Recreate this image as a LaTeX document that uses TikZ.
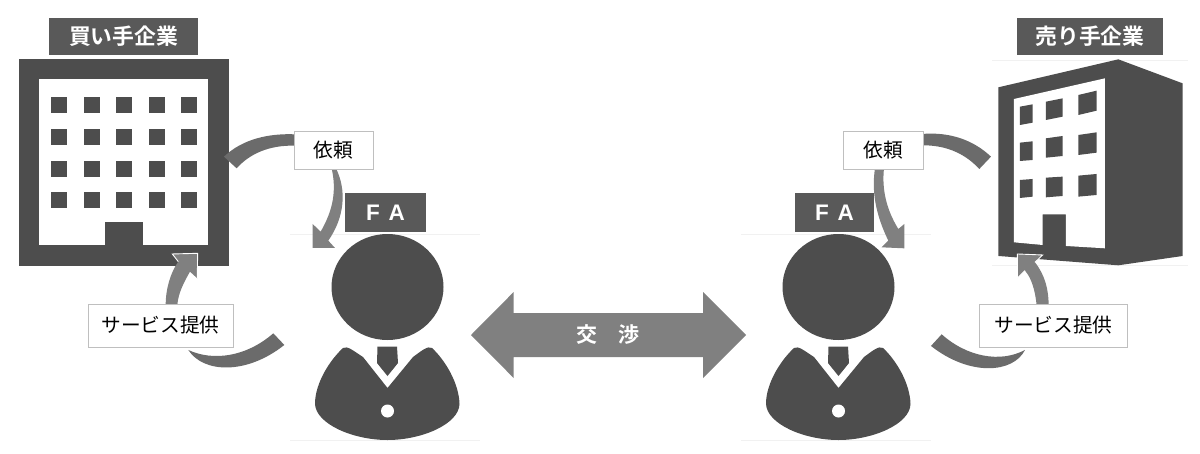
\documentclass[tikz,border=0pt]{standalone}
\usepackage{fontspec}
\setmainfont{Noto Sans CJK JP}[BoldFont={Noto Sans CJK JP Bold}]
\newfontfamily\latinbold{Liberation Sans}[BoldFont={Liberation Sans Bold}]
\definecolor{dark}{HTML}{4D4D4D}
\definecolor{tagc}{HTML}{595959}
\definecolor{bandA}{HTML}{6B6B6B}
\definecolor{bandB}{HTML}{808080}
\definecolor{edgec}{HTML}{BFBFBF}
\definecolor{faint}{HTML}{F1F1F1}
\tikzset{
  tagbox/.style={fill=tagc,draw=none,text=white,inner sep=0pt,font=\fontsize{21.8}{23}\selectfont\bfseries},
  labelbox/.style={fill=white,draw=edgec,line width=0.8pt,inner sep=0pt,text=black,font=\fontsize{19.7}{21}\selectfont},
  darkshape/.style={fill=dark,draw=none},
  bandone/.style={fill=bandA,draw=none},
  bandtwo/.style={fill=bandB,draw=none},
  headoutline/.style={draw=white,line width=0.9pt},
  zoomleft/.style={x=0.3333pt,y=-0.3333pt},
  zoomright/.style={x=0.3333pt,y=-0.3333pt,xshift=760pt}
}
\newcommand{\personfigure}[1]{%
  \begin{scope}[xshift=#1]
    \draw[faint,line width=0.7pt] (290,234) -- (480,234);
    \draw[faint,line width=1pt] (290,440.5) -- (480,440.5);
    \fill[dark] (387.5,287) ellipse [x radius=56,y radius=53];
    \fill[dark] (343,348)
      .. controls (330,360) and (315,383) .. (315,404)
      .. controls (316,424) and (353,440) .. (387.5,440)
      .. controls (422,440) and (459,424) .. (459.5,404)
      .. controls (459,383) and (445,360) .. (432,348)
      .. controls (428,345) and (420,352) .. (413,357)
      -- (387.5,388) -- (363,357)
      .. controls (355,352) and (347,345) .. (343,348) -- cycle;
    \fill[dark] (377.5,346.5) -- (397,346.5) -- (398,363) -- (387.5,376) -- (377,363) -- cycle;
    \fill[white] (387.5,411) circle [radius=6.5];
  \end{scope}}
\begin{document}
\begin{tikzpicture}[x=1pt,y=-1pt]
\useasboundingbox (0,0) rectangle (1200,453);
\fill[white] (0,0) rectangle (1200,453);

% left building
\fill[dark] (19,59) rectangle (229,265.5);
\fill[white] (39,79) rectangle (208,245);
\fill[dark] (105,222) rectangle (143,245);
\foreach \wx in {51,83.5,116,148.5,180.5}
  \foreach \wy in {97,129,161,192}
    \fill[dark] (\wx,\wy) rectangle ++(16,16);

% right building
\begin{scope}[zoomright]
  \draw[faint,line width=0.7pt] (697,180) -- (1285,180);
  \draw[faint,line width=0.7pt] (697,797) -- (1285,797);
  \fill[dark] (715,262) -- (1075,178) -- (1268,250) -- (1268,768) -- (1075,796) -- (715,768) -- cycle;
  \fill[white] (762,297) -- (1035,235) -- (1035,745) -- (918,738) -- (918,643) -- (848,643) -- (848,735) -- (762,727) -- cycle;
  \fill[dark] (780,320) -- (818,313) -- (818,368) -- (780,375) -- cycle;
  \fill[dark] (780,428) -- (818,424) -- (818,480) -- (780,483) -- cycle;
  \fill[dark] (780,540) -- (818,537) -- (818,590) -- (780,594) -- cycle;
  \fill[dark] (858,305) -- (908,295) -- (908,350) -- (858,360) -- cycle;
  \fill[dark] (858,415) -- (908,408) -- (908,468) -- (858,473) -- cycle;
  \fill[dark] (858,533) -- (908,530) -- (908,588) -- (858,592) -- cycle;
  \fill[dark] (955,285) -- (1010,272) -- (1010,332) -- (955,345) -- cycle;
  \fill[dark] (955,405) -- (1010,397) -- (1010,458) -- (955,465) -- cycle;
  \fill[dark] (955,527) -- (1010,522) -- (1010,585) -- (955,590) -- cycle;
\end{scope}

% persons
\personfigure{0pt}
\personfigure{451pt}

% left curved bands
\begin{scope}[zoomleft]
  \fill[bandone] (672,470) .. controls (730,415) and (810,400) .. (885,403)
    -- (885,437) .. controls (810,435) and (750,460) .. (710,505) -- cycle;
  \fill[bandtwo] (1008,505) .. controls (1040,570) and (1035,650) .. (985,722)
    -- (1005,744) -- (938,744) -- (938,672) -- (962,695)
    .. controls (1000,630) and (1010,570) .. (995,505) -- cycle;
  \fill[bandtwo] (497,915) .. controls (497,870) and (510,820) .. (535,785)
    -- (517,762) -- (593,760) -- (592,835) -- (570,815)
    .. controls (550,850) and (535,880) .. (532,915) -- cycle;
  \draw[headoutline] (535,785) -- (517,762) -- (593,760) -- (592,835);
  \fill[bandone] (565,1050) .. controls (610,1120) and (740,1125) .. (853,1035)
    -- (820,1000) .. controls (740,1070) and (640,1085) .. (565,1050) -- cycle;
\end{scope}

% right curved bands
\begin{scope}[zoomright]
  \fill[bandone] (485,402) .. controls (570,395) and (640,420) .. (693,470)
    -- (658,507) .. controls (610,455) and (550,435) .. (485,436) -- cycle;
  \fill[bandtwo] (345,505) .. controls (335,570) and (345,640) .. (385,722)
    -- (365,742) -- (433,745) -- (433,672) -- (415,687)
    .. controls (380,630) and (365,570) .. (372,505) -- cycle;
  \fill[bandtwo] (830,915) .. controls (825,870) and (815,835) .. (795,812)
    -- (772,835) -- (772,762) -- (848,765) -- (825,787)
    .. controls (855,825) and (866,870) .. (866,915) -- cycle;
  \draw[headoutline] (795,812) -- (772,835) -- (772,762) -- (848,765) -- (825,787);
  \fill[bandone] (795,1050) .. controls (760,1120) and (630,1130) .. (513,1038)
    -- (545,1003) .. controls (620,1070) and (720,1090) .. (795,1050) -- cycle;
\end{scope}

% double arrow
\fill[bandB] (471,335) -- (513.7,292) -- (513.7,313) -- (703,313) -- (703,292) -- (746,335) -- (703,378) -- (703,357) -- (513.7,357) -- (513.7,378) -- cycle;
\node[text=white,inner sep=0pt,font=\fontsize{21}{23}\selectfont\bfseries] (nego) at (608,335) {交　渉};

% title tags
\node[tagbox,minimum width=149pt,minimum height=37pt] (buyer) at (123.5,36.5) {買い手企業};
\node[tagbox,minimum width=146.5pt,minimum height=37pt] (seller) at (1090,36.5) {売り手企業};
\node[tagbox,minimum width=81pt,minimum height=39pt,font=\latinbold\fontsize{22.5}{24}\selectfont\bfseries] (faL) at (385.5,212.5) {F\hspace{0.4em}A};
\node[tagbox,minimum width=79pt,minimum height=39pt,font=\latinbold\fontsize{22.5}{24}\selectfont\bfseries] (faR) at (834.5,212.5) {F\hspace{0.4em}A};

% label boxes
\node[labelbox,minimum width=79pt,minimum height=38pt] (reqL) at (333.5,150) {依頼};
\node[labelbox,minimum width=80pt,minimum height=38pt] (reqR) at (883,150) {依頼};
\node[labelbox,minimum width=145pt,minimum height=43pt] (svcL) at (160.5,325.5) {サービス提供};
\node[labelbox,minimum width=148.5pt,minimum height=43pt] (svcR) at (1053.5,325.5) {サービス提供};
\end{tikzpicture}
\end{document}
